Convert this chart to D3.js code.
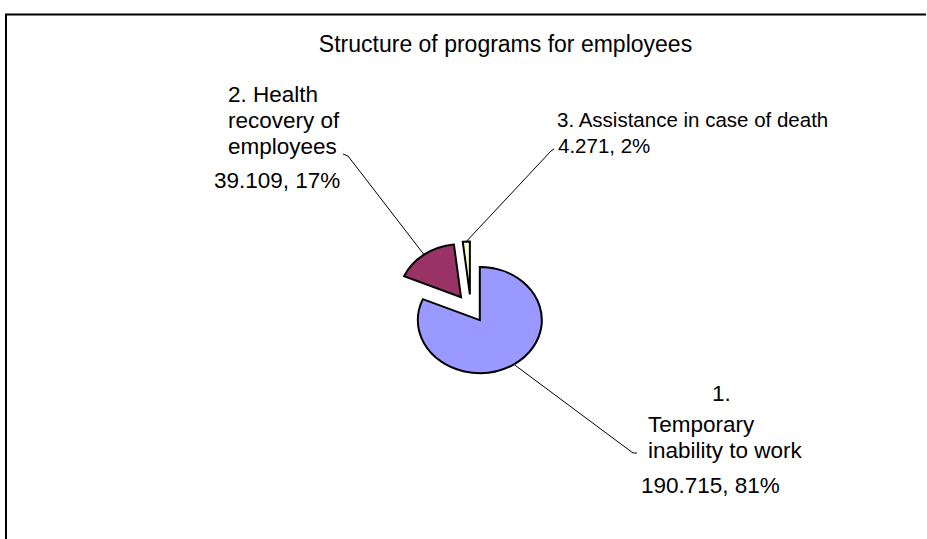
<!DOCTYPE html>
<html>
<head>
<meta charset="utf-8">
<script src="https://cdn.jsdelivr.net/npm/d3@7/dist/d3.min.js"></script>
<style>
  html, body { margin: 0; padding: 0; background: #fff; }
  svg { display: block; }
  text { font-family: "Liberation Sans", Arial, sans-serif; fill: #000; }
</style>
</head>
<body>
<svg id="chart" width="927" height="539"></svg>
<script>
// Program categories and amounts
const categories = [
  "1. Temporary inability to work",
  "2. Health recovery of employees",
  "3. Assistance in case of death"
];
const values = [190.715, 39.109, 4.271];
const colors = ["#9999FF", "#993366", "#FFFFCC"];
const title = "Structure of programs for employees";

// Wrapped category text for each label
const labelLines = [
  ["1.", "Temporary", "inability to work"],
  ["2. Health", "recovery of", "employees"],
  ["3. Assistance in case of death"]
];

const W = 927, H = 539;
const svg = d3.select("#chart");

// Frame
svg.append("path")
  .attr("d", `M926,14.5 H6 V${H}`)
  .attr("fill", "none")
  .attr("stroke", "#000")
  .attr("stroke-width", 2);

// Title
svg.append("text")
  .attr("x", 505.5)
  .attr("y", 52)
  .attr("text-anchor", "middle")
  .style("font-size", "23px")
  .text(title);

// Pie geometry
const cx = 470.8, cy = 308.4;
const radius = 53;
const stretchX = 1.17;
const explode = 14;

const pie = d3.pie().sort(null).startAngle(0).endAngle(2 * Math.PI);
const arcs = pie(values);
const total = d3.sum(values);
const arc = d3.arc().innerRadius(0).outerRadius(radius);

const pieG = svg.append("g")
  .attr("transform", `translate(${cx},${cy}) scale(${stretchX},1)`);

function offsetOf(d) {
  const mid = (d.startAngle + d.endAngle) / 2;
  return [explode * Math.sin(mid), -explode * Math.cos(mid)];
}

pieG.selectAll("path.slice")
  .data(arcs)
  .join("path")
  .attr("class", "slice")
  .attr("transform", d => { const o = offsetOf(d); return `translate(${o[0]},${o[1]})`; })
  .attr("d", arc)
  .attr("fill", (d, i) => colors[i])
  .attr("stroke", "#000")
  .attr("stroke-width", 2)
  .attr("stroke-linejoin", "miter")
  .attr("vector-effect", "non-scaling-stroke");

// Point on the outer arc, at the middle of a slice, in page coordinates
function edgePoint(d) {
  const mid = (d.startAngle + d.endAngle) / 2;
  const o = offsetOf(d);
  const x = o[0] + radius * Math.sin(mid);
  const y = o[1] - radius * Math.cos(mid);
  return [cx + x * stretchX, cy + y];
}

// Label placement: text lines, value line, leader line anchor, font size
const labelLayout = [
  { size: 22.5, lines: [[712, 401], [648, 432], [648, 458]], value: [641, 493], leader: [[637, 453], [633, 453]] },
  { size: 22.5, lines: [[228, 102], [228, 128], [228, 154]], value: [214, 188], leader: [[343, 154], [348, 156]] },
  { size: 20.5, lines: [[557, 127]], value: [558, 153], leader: [[554, 149], [551, 151]] }
];

const fmtVal = d3.format(".3f");
const fmtPct = d3.format(".0%");

arcs.forEach((d, i) => {
  const L = labelLayout[i];
  const g = svg.append("g").attr("class", "label");
  labelLines[i].forEach((t, j) => {
    g.append("text")
      .attr("x", L.lines[j][0])
      .attr("y", L.lines[j][1])
      .style("font-size", L.size + "px")
      .text(t);
  });
  g.append("text")
    .attr("x", L.value[0])
    .attr("y", L.value[1])
    .style("font-size", L.size + "px")
    .text(`${fmtVal(values[i])}, ${fmtPct(values[i] / total)}`);

  const pts = [...L.leader, edgePoint(d)];
  g.append("path")
    .attr("d", d3.line()(pts))
    .attr("fill", "none")
    .attr("stroke", "#000")
    .attr("stroke-width", 1);
});
</script>
</body>
</html>
